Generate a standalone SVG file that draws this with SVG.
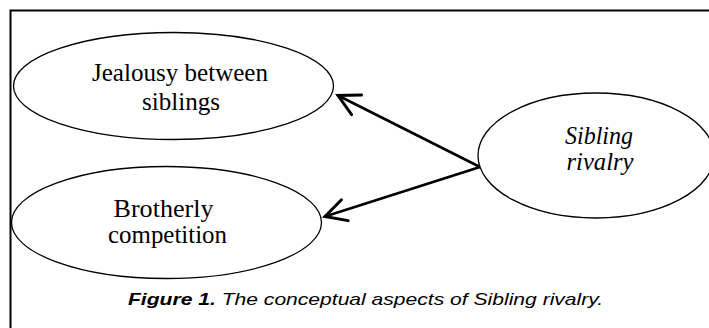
<svg xmlns="http://www.w3.org/2000/svg" width="709" height="328" viewBox="0 0 709 328">
<style>
.node{fill:#fff;stroke:#000;stroke-width:1.3}
.lbl{font-family:"Liberation Serif","Times New Roman",serif;font-size:25px;fill:#000;text-anchor:middle}
.it{font-style:italic}
.conn{stroke:#000;stroke-width:2.6;fill:none;stroke-linecap:round}
.frame{stroke:#000;stroke-width:2;fill:none}
.cap{font-family:"Liberation Sans",Arial,sans-serif;font-size:16px;font-style:italic;fill:#000}
</style>
<defs>
<marker id="open" markerUnits="userSpaceOnUse" markerWidth="30" markerHeight="30" viewBox="-22 -12 26 24" refX="0" refY="0" orient="auto">
<path d="M-18,-9.5 L0,0 L-18,9.5" fill="none" stroke="#000" stroke-width="2.6" stroke-linecap="round" stroke-linejoin="miter"/>
</marker>
</defs>
<g id="frame">
<path class="frame" d="M10.5,328 V10.5 H709"/>
</g>
<g id="connectors">
<line class="conn" x1="480" y1="167" x2="338" y2="95.5" marker-end="url(#open)"/>
<line class="conn" x1="480" y1="167" x2="325" y2="216.5" marker-end="url(#open)"/>
</g>
<g id="jealousy">
<ellipse class="node" cx="173.5" cy="86" rx="160" ry="53.5"/>
<text class="lbl" x="180" y="81" textLength="176" lengthAdjust="spacingAndGlyphs">Jealousy between</text>
<text class="lbl" x="181" y="110" textLength="78" lengthAdjust="spacingAndGlyphs">siblings</text>
</g>
<g id="brotherly">
<ellipse class="node" cx="166.5" cy="222.5" rx="155" ry="56"/>
<text class="lbl" x="163.5" y="216.5" textLength="100" lengthAdjust="spacingAndGlyphs">Brotherly</text>
<text class="lbl" x="167.5" y="243" textLength="119" lengthAdjust="spacingAndGlyphs">competition</text>
</g>
<g id="rivalry">
<ellipse class="node" cx="596" cy="155.5" rx="118" ry="62.5"/>
<text class="lbl it" x="599" y="143.5" textLength="68" lengthAdjust="spacingAndGlyphs">Sibling</text>
<text class="lbl it" x="600" y="170" textLength="67" lengthAdjust="spacingAndGlyphs">rivalry</text>
</g>
<g id="caption">
<text class="cap" transform="translate(128,305) scale(1.318,1)" x="0" y="0"><tspan font-weight="bold">Figure 1.</tspan> The conceptual aspects of Sibling rivalry.</text>
</g>
</svg>
